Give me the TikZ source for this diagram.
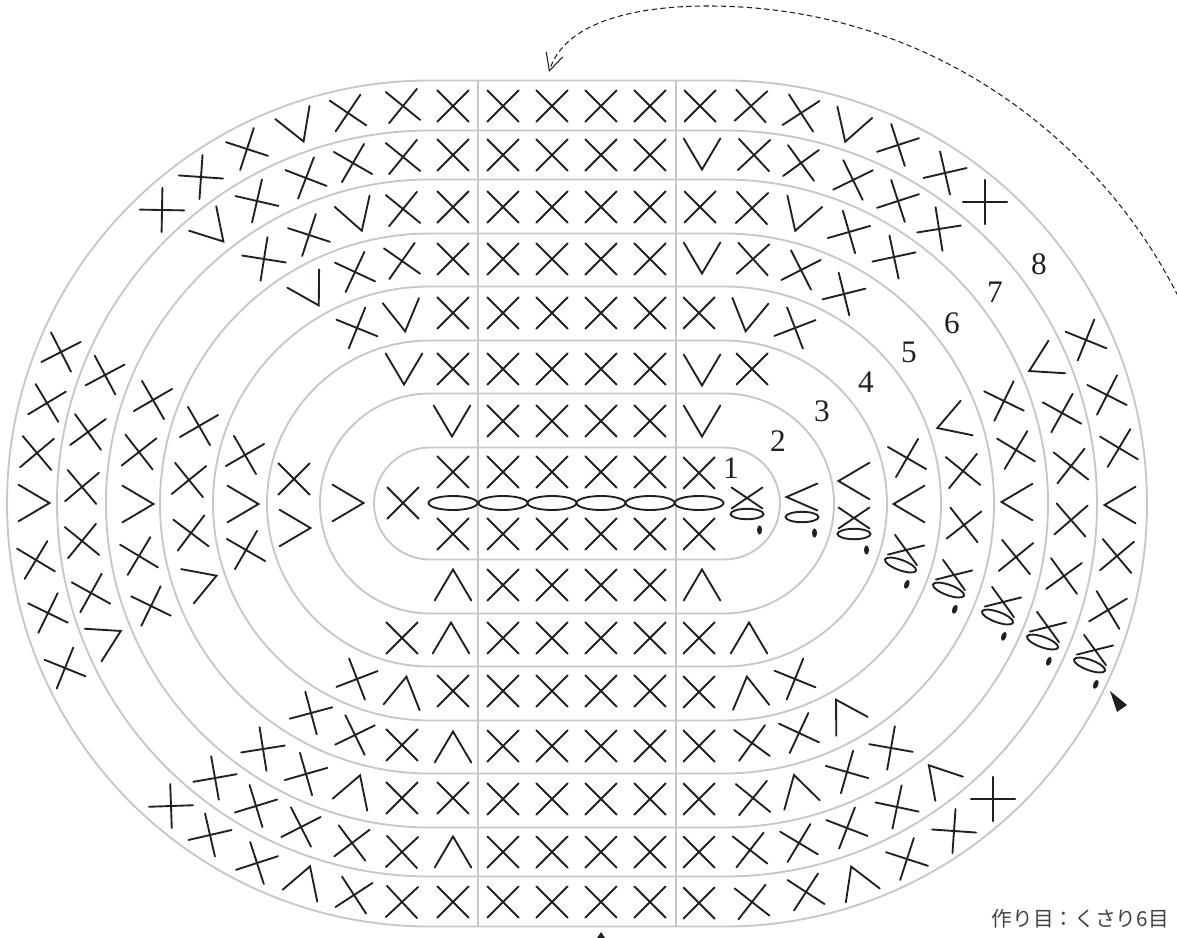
\documentclass[tikz,border=0pt]{standalone}
\usepackage{fontspec}
\usepackage{xcolor}
\usepackage{tikz}
\usetikzlibrary{arrows.meta}
\newfontfamily\cjkfont{Noto Sans CJK JP}
\newfontfamily\numfont{Liberation Serif}
\definecolor{ringgray}{HTML}{C6C7CA}
\definecolor{ink}{HTML}{231F20}
\newcommand{\tailshape}[1]{
  \draw[stitch] (0,#1) ellipse [x radius=16.5,y radius=5.2];
  \fill[ink] (12.5,#1+16) ellipse [x radius=2.5,y radius=4.6];
}
\tikzset{
stitch/.style={line width=1.4pt,color=ink,line cap=round,line join=miter},
ringline/.style={line width=1.4pt,color=ringgray},
xmark/.pic={\draw[stitch] (-15.6,-15.6)--(15.6,15.6) (15.6,-15.6)--(-15.6,15.6);},
vmark/.pic={\draw[stitch] (-18.3,-15.5)--(0,15.5)--(18.3,-15.5);},
startx/.pic={
  \draw[stitch] (-15.5,-10.5)--(15.5,10.5) (15.5,-10.5)--(-15.5,10.5);
  \tailshape{16}
},
startv/.pic={
  \draw[stitch] (15.5,-13.5)--(-15.5,0)--(15.5,13.5);
  \tailshape{20}
}
}
\begin{document}
\begin{tikzpicture}[x=.75pt,y=-.75pt]
\useasboundingbox (0,0) rectangle (1177,938);
\foreach \r in {56,110,163,217,270,324,373,423}
  \draw[ringline,rounded corners=.75*\r pt] (430-\r,503.5-\r) rectangle (724+\r,503.5+\r);
\draw[ringline] (478,81)--(478,927) (676,81)--(676,927);
\foreach \ry in {106,155,207,259,313,369,421,472,534,585,638,691,746,799,852,902}
  \foreach \cx in {503,552,601,650}
    \pic at (\cx,\ry) {xmark};
\foreach \cx in {453,503,552,601,650,699}
  \draw[stitch] (\cx,503) ellipse [x radius=24.5,y radius=7];
\foreach \px/\py/\ang in {
  453/106/0,403/106/6,348/113/11,247/149/27,201/177/41,162/210/44,
  453/155/0,403/157/6,353/163/15,306/178/24,257/201/32,
  453/207/0,403/209/6,309/235/27,264/259/36,
  453/259/0,402/261/10,355/272/20,
  453/313/0,357/328/23,453/369/0,453/472/0,
  61/352/-18,47/403/-14,37/453/-5,36/560/14,48/613/19,65/668/23,
  105/375/-17,88/432/-9,82/487/-5,82/541/6,91/593/16,
  153/400/-15,139/452/-7,139/556/14,151/606/19,
  199/426/-15,189/480/-6,191/533/8,
  245/455/-15,246/550/15,294/479/0,403/503/0,
  453/534/0,402/638/0,453/691/0,357/679/-24,
  402/745/0,355/735/-19,311/713/-30,
  453/798/0,402/798/0,306/774/-29,263/749/-36,
  402/852/-2,352/843/-8,301/827/-18,256/806/-28,215/778/-35,
  453/902/0,402/902/-2,354/895/-12,257/863/-27,210/835/-32,171/806/-43,
  700/106/0,751/106/-3,801/113/-12,898/145/-27,945/173/-32,985/202/-45,
  754/155/-2,801/163/-9,853/180/-19,898/201/-27,939/229/-36,
  700/207/0,752/208/-2,849/232/-29,894/257/-33,
  753/259/-3,801/270/-18,844/294/-31,
  699/313/0,795/328/-24,752/369/0,699/473/0,699/534/0,
  1086/340/23,1107/395/18,1119/448/14,1117/556/-5,1108/610/-14,
  1062/413/16,1071/466/7,1071/520/-4,1064/576/-9,
  1004/401/19,1016/450/14,1016/557/-6,
  963/471/6,964/525/-7,907/458/15,
  699/638/0,699/692/0,795/679/23,
  699/746/0,752/743/9,799/733/20,
  699/799/0,753/798/6,847/772/29,891/748/35,
  699/852/0,750/850/7,799/843/14,847/828/24,897/807/33,
  699/903/0,752/902/7,806/892/12,907/859/27,954/831/41,993/799/45}
  \pic[rotate=\ang] at (\px,\py) {xmark};
\foreach \px/\py/\ang in {
  298/127/21,213/230/42,357/216/18,311/292/30,403/316/8,404/369/0,452/421/0,
  34/503/90,138/504/90,243/504/90,295/528/90,348/503/90,107/638/117,202/581/110,
  453/585/180,451/638/180,404/692/171,453/747/180,355/790/161,453/852/180,305/881/161,
  850/127/-18,702/154/0,800/216/-18,702/258/0,748/316/-9,702/370/0,702/421/0,
  1120/505/-90,1043/364/-63,1017/502/-90,952/423/-71,909/504/-90,854/481/-90,
  702/585/180,749/638/180,749/692/188,844/713/211,798/790/195,939/777/221,857/881/202}
  \pic[rotate=\ang] at (\px,\py) {vmark};
\foreach \px/\py/\ang in {747/498/0,854/518/0,906/550/-20,954/575/-20,1003/602/-20,1048/627/-20,1095/650/-20}
  \pic[rotate=\ang] at (\px,\py) {startx};
\pic at (802,497) {startv};
\foreach \n/\px/\py in {1/731/468,2/778/441,3/822/411,4/866/382,5/909/352,6/952/323,7/995/292,8/1039/264}
  \node[font=\numfont\fontsize{23.5}{23.5}\selectfont,text=ink,inner sep=0pt] (num\n) at (\px,\py) {\n};
\fill[ink] (1110,691)--(1127,705)--(1117,712)--cycle;
\fill[ink] (601,932)--(605,938)--(597,938)--cycle;
\coordinate (loopstart) at (1178,296);
\coordinate (looptop) at (708,6);
\coordinate (loopend) at (549,72);
\draw[line width=.8pt,color=ink,dashed,dash pattern=on 4pt off 2.5pt,-{Straight Barb[length=13pt,width=13pt]}]
  (loopstart) .. controls (1100,140) and (930,6) .. (looptop)
  .. controls (640,6) and (565,20) .. (loopend);
\node[anchor=east,inner sep=0pt,text=ink!85,font=\cjkfont\fontsize{15.5}{15.5}\selectfont] (chaincap) at (1169,919) {作り目：くさり6目};
\end{tikzpicture}
\end{document}
